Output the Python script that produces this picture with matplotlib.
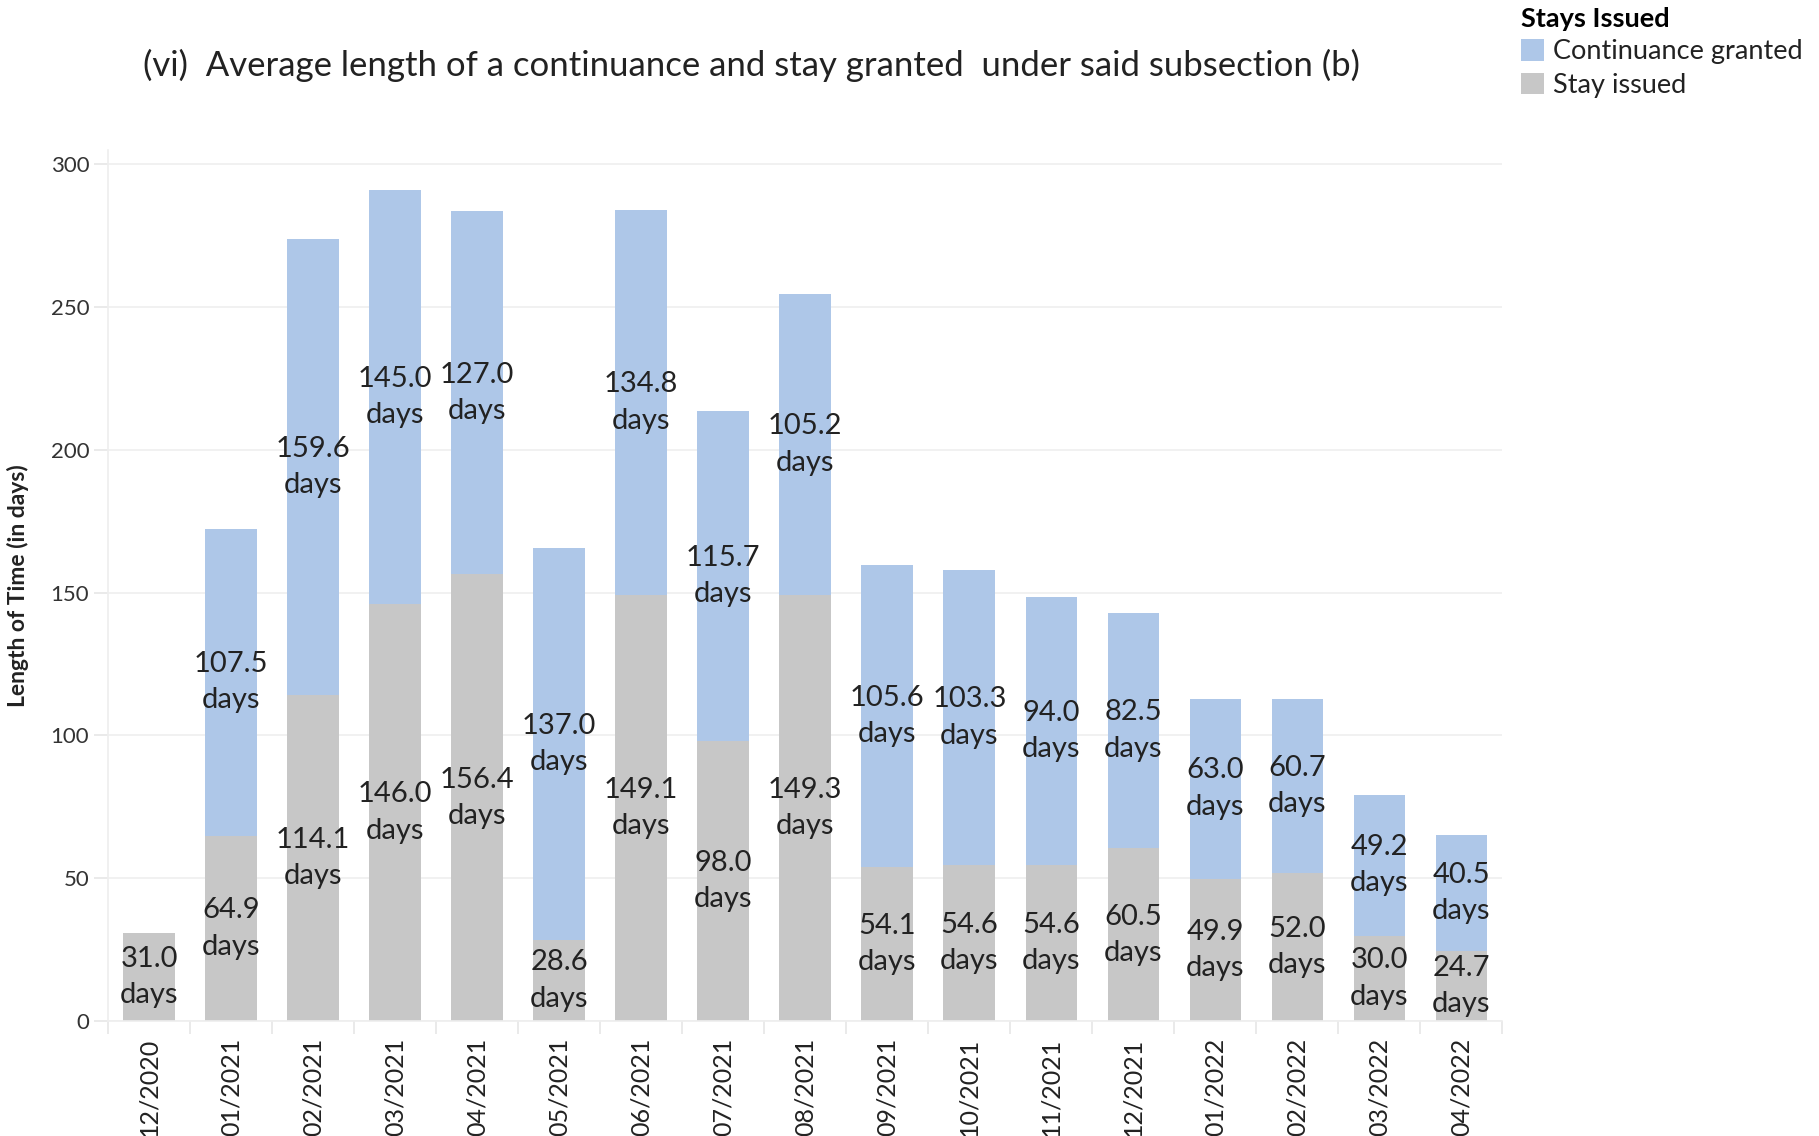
import matplotlib.pyplot as plt
import numpy as np

plt.rcParams['font.family'] = ['Lato', 'DejaVu Sans']

months = ['12/2020', '01/2021', '02/2021', '03/2021', '04/2021', '05/2021',
          '06/2021', '07/2021', '08/2021', '09/2021', '10/2021', '11/2021',
          '12/2021', '01/2022', '02/2022', '03/2022', '04/2022']
stay_issued = [31.0, 64.9, 114.1, 146.0, 156.4, 28.6, 149.1, 98.0, 149.3,
               54.1, 54.6, 54.6, 60.5, 49.9, 52.0, 30.0, 24.7]
continuance = [0.0, 107.5, 159.6, 145.0, 127.0, 137.0, 134.8, 115.7, 105.2,
               105.6, 103.3, 94.0, 82.5, 63.0, 60.7, 49.2, 40.5]

blue = '#aec7e8'
grey = '#c7c7c7'
txt = '#222222'

fig = plt.figure(figsize=(18.19, 11.36), dpi=100)
ax = fig.add_axes([0.0594, 0.101, 0.7666, 0.7673])

x = np.arange(len(months))
stay = np.array(stay_issued)
cont = np.array(continuance)
w = 0.63

ax.bar(x, stay, width=w, color=grey, zorder=2, label='Stay issued')
ax.bar(x, cont, width=w, bottom=stay, color=blue, zorder=2, label='Continuance granted')

# value labels, centred in each segment
for i in range(len(x)):
    ax.text(x[i], stay[i] / 2, f'{stay[i]:.1f}\ndays', ha='center', va='center',
            fontsize=21, color=txt, linespacing=1.5, zorder=3)
    if cont[i] > 0:
        ax.text(x[i], stay[i] + cont[i] / 2, f'{cont[i]:.1f}\ndays', ha='center',
                va='center', fontsize=21, color=txt, linespacing=1.5, zorder=3)

ax.set_xlim(-0.5, len(x) - 0.5)
ax.set_ylim(0, 305)
ax.set_yticks(np.arange(0, 301, 50))
ax.yaxis.grid(True, color='#efefef', linewidth=1.2, zorder=0)
ax.tick_params(axis='y', labelsize=16, labelcolor='#333333', color='#e6e6e6',
               length=10, width=1.2)
ax.set_xticks(x)
ax.set_xticklabels(months, rotation=90, fontsize=18, color=txt)
ax.set_xticks(np.arange(-0.5, len(x), 1), minor=True)
ax.tick_params(axis='x', which='major', length=0, pad=12)
ax.tick_params(axis='x', which='minor', length=9, color='#e6e6e6', width=1.2)

for s in ['top', 'right']:
    ax.spines[s].set_visible(False)
ax.spines['left'].set_color('#eeeeee')
ax.spines['bottom'].set_color('#eeeeee')
ax.spines['left'].set_linewidth(1.2)
ax.spines['bottom'].set_linewidth(1.2)

ax.set_ylabel('Length of Time (in days)', fontsize=16.5, fontweight='bold', color=txt)
ax.yaxis.set_label_coords(-0.057, 0.5)

fig.text(0.413, 0.942, '(vi)  Average length of a continuance and stay granted  under said subsection (b)',
         ha='center', va='center', fontsize=25, color=txt)

handles, labels = ax.get_legend_handles_labels()
leg = fig.legend(handles[::-1], labels[::-1], loc='upper left',
                 bbox_to_anchor=(0.827, 1.008), frameon=False, fontsize=19.5,
                 title='Stays Issued', title_fontproperties={'weight': 'bold', 'size': 19.5},
                 alignment='left', handlelength=0.85, handleheight=0.85,
                 handletextpad=0.35, labelspacing=0.3, borderaxespad=0.2)
for t in leg.get_texts():
    t.set_color(txt)

fig.savefig('out.png', dpi=100)
